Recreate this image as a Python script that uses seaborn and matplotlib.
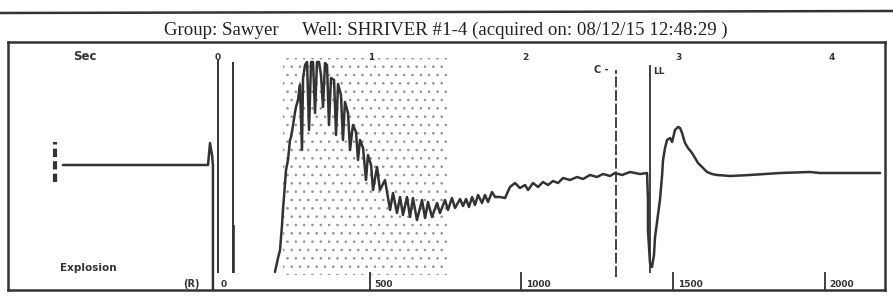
import pandas as pd
import seaborn as sns
import matplotlib.pyplot as plt
from matplotlib.patches import Rectangle

# header
group_name = "Sawyer"
well_name = "SHRIVER #1-4"
acquired_on = "08/12/15 12:48:29"

# pre-shot trace (time in sec, amplitude)
pre_t = [-1.010, -0.065, -0.052, -0.039, -0.033, -0.033]
pre_a = [5, 5, 27, 15, 5, -119]

# acoustic trace after the shot
shot_t = [0.371, 0.391, 0.404, 0.417, 0.423, 0.436, 0.443, 0.456, 0.469, 0.476,
          0.489, 0.502, 0.508, 0.521, 0.534, 0.547, 0.554, 0.567, 0.580, 0.593,
          0.606, 0.619, 0.632, 0.645, 0.658, 0.671, 0.684, 0.697, 0.710, 0.723,
          0.736, 0.756, 0.769, 0.782, 0.801, 0.814, 0.827, 0.847, 0.860, 0.879,
          0.899, 0.912, 0.925, 0.945, 0.964, 0.977, 0.997, 1.010, 1.036, 1.055,
          1.088, 1.121, 1.140, 1.166, 1.186, 1.205, 1.231, 1.251, 1.270, 1.296,
          1.329, 1.349, 1.368, 1.394, 1.427, 1.446, 1.479, 1.498, 1.524, 1.544,
          1.577, 1.596, 1.616, 1.635, 1.655, 1.674, 1.694, 1.720, 1.739, 1.759,
          1.785, 1.805, 1.837, 1.870, 1.902, 1.935, 1.967, 2.000, 2.020, 2.052,
          2.085, 2.117, 2.150, 2.182, 2.215, 2.248, 2.293, 2.339, 2.378, 2.423,
          2.469, 2.508, 2.554, 2.586, 2.632, 2.684, 2.749, 2.795, 2.801, 2.801,
          2.814, 2.827, 2.840, 2.847, 2.866, 2.879, 2.893, 2.899, 2.912, 2.925,
          2.945, 2.958, 2.977, 2.997, 3.010, 3.023, 3.042, 3.062, 3.088, 3.127,
          3.160, 3.186, 3.218, 3.251, 3.336, 3.466, 3.661, 3.857, 3.922, 4.117,
          4.313]
shot_a = [-102, -88, -80, -55, -40, -15, 0, 10, 30, 33,
          45, 58, 63, 70, 85, 20, 92, 105, 108, 40,
          108, 108, 57, 108, 108, 95, 63, 107, 105, 45,
          92, 90, 35, 86, 75, 30, 68, 57, 20, 45,
          38, 10, 30, 22, -10, 15, 5, -20, 3, -20,
          -10, -40, -23, -43, -27, -45, -27, -47, -28, -50,
          -30, -48, -32, -47, -33, -43, -30, -40, -28, -38,
          -29, -36, -29, -37, -27, -35, -25, -33, -25, -32,
          -22, -27, -27, -28, -17, -13, -18, -15, -20, -13,
          -17, -12, -15, -11, -13, -8, -10, -7, -9, -5,
          -7, -4, -6, -3, -5, -2, -4, -3, -30, -60,
          -93, -97, -85, -67, -45, -30, -5, 10, 22, 30,
          32, 28, 40, 43, 42, 37, 27, 22, 17, 7,
          2, -2, -4, -5, -6, -5, -3, -2, -3, -3,
          -3]

sec_ticks = [0, 1, 2, 3, 4]
depth_ticks = [500, 1000, 1500, 2000]
ft_per_sec = 506

shot_time = 0.0
gun_time = 0.098
collar_time = 2.593
liquid_time = 2.814
noise_span = (0.423, 1.492)

ink = "#333333"

sns.set_theme(style="white")
plt.rcParams["hatch.linewidth"] = 0.6

fig = plt.figure(figsize=(8.93, 3.07), dpi=100)
ax = fig.add_axes([8 / 893, 17 / 307, 877 / 893, 248 / 307])

# stippled noise area
ax.add_patch(Rectangle((noise_span[0], -105), noise_span[1] - noise_span[0], 217,
                       facecolor="none", edgecolor="#909090", hatch="..", lw=0))

pre_df = pd.DataFrame({"t": pre_t, "a": pre_a})
shot_df = pd.DataFrame({"t": shot_t, "a": shot_a})
sns.lineplot(data=pre_df, x="t", y="a", sort=False, estimator=None,
             color=ink, lw=1.8, ax=ax)
sns.lineplot(data=shot_df, x="t", y="a", sort=False, estimator=None,
             color=ink, lw=1.8, ax=ax)

# marker lines
ax.vlines(-1.062, -12, 28, color=ink, lw=3, linestyles=(0, (2, 1)))
ax.vlines(shot_time, -103, 110, color=ink, lw=1.4)
ax.vlines(gun_time, -103, 108, color=ink, lw=1.4)
ax.vlines(gun_time + 0.008, -103, -55, color=ink, lw=1.2)
ax.vlines(collar_time, -107, 100, color=ink, lw=1.3, linestyles=(0, (6, 1.5)))
ax.vlines(liquid_time, -103, 105, color=ink, lw=1.3)

# seconds labels along the top
for s in sec_ticks:
    ax.text(s, 113, str(s), ha="center", va="center", fontsize=6.5,
            fontweight="bold", color=ink)
ax.text(-0.866, 113, "Sec", ha="center", va="center", fontsize=8.5,
        fontweight="bold", color=ink)
ax.text(collar_time - 0.05, 100, "C -", ha="right", va="center", fontsize=7,
        fontweight="bold", color=ink)
ax.text(liquid_time + 0.02, 98, "LL", ha="left", va="center", fontsize=6.5,
        fontweight="bold", color=ink)

# depth ticks along the bottom
for d in depth_ticks:
    x = d / ft_per_sec
    ax.vlines(x, -120, -102, color=ink, lw=1.3)
    ax.text(x + 0.03, -119, str(d), ha="left", va="bottom", fontsize=6.5,
            fontweight="bold", color=ink)
ax.text(-1.03, -98, "Explosion", ha="left", va="center", fontsize=7.5,
        fontweight="bold", color=ink)
ax.text(-0.12, -119, "(R)", ha="right", va="bottom", fontsize=7,
        fontweight="bold", color=ink)
ax.text(0.02, -119, "0", ha="left", va="bottom", fontsize=6.5,
        fontweight="bold", color=ink)

ax.set_xlim(-1.368, 4.345)
ax.set_ylim(-120, 128)
ax.set_xticks([])
ax.set_yticks([])
ax.set_xlabel("")
ax.set_ylabel("")
for sp in ax.spines.values():
    sp.set_color(ink)
    sp.set_linewidth(1.8)

# header
fig.add_artist(plt.Line2D([0, 1], [1 - 13 / 307, 1 - 11 / 307], color=ink, lw=1.8))
fig.text(446 / 893, 1 - 30 / 307,
         f"Group: {group_name}     Well: {well_name} (acquired on: {acquired_on} )",
         ha="center", va="center", fontsize=13.6, family="Liberation Serif",
         color="#222222")

fig.savefig("out.png", dpi=100)
